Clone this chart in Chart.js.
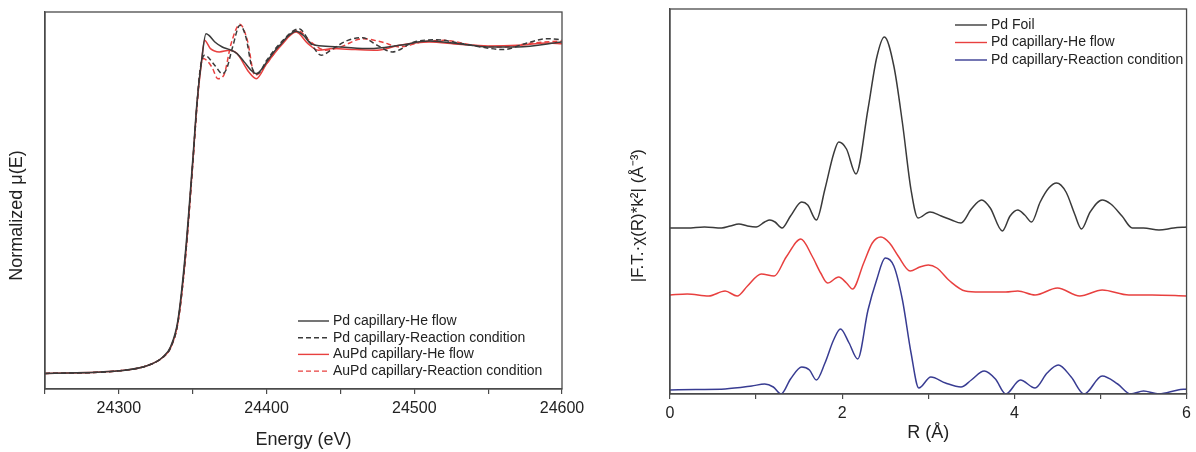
<!DOCTYPE html>
<html>
<head>
<meta charset="utf-8">
<script src="https://cdn.jsdelivr.net/npm/chart.js@4.4.1/dist/chart.umd.min.js"></script>
<style>
    body { margin: 0; background: #fff; }
    #wrap { position: relative; width: 1196px; height: 452px; }
    .box { position: absolute; top: 0; height: 452px; }
</style>
</head>
<body>
<div id="wrap">
    <div class="box" style="left:0;width:600px"><canvas id="xanes"></canvas></div>
    <div class="box" style="left:600px;width:596px"><canvas id="exafs"></canvas></div>
</div>
<script>
// left panel: XANES, energy (eV) vs normalized mu
const pdHeE = [24250,24300,24320,24330,24335,24340,24345,24350,24353,24356,24359,24361,24365,24370,24375,24380,24385,24390,24393,24397,24400,24405,24410,24415,24420,24425,24430,24440,24450,24470,24490,24510,24530,24550,24570,24600]
const pdHeMu = [0.000,0.008,0.025,0.051,0.081,0.162,0.364,0.646,0.828,0.949,1.030,1.025,1.005,0.990,0.982,0.970,0.944,0.917,0.909,0.924,0.944,0.975,1.000,1.025,1.038,1.025,1.000,0.992,0.990,0.985,0.995,1.008,1.000,0.990,0.990,1.005]

const pdRxE = [24250,24300,24320,24330,24335,24340,24345,24350,24353,24355,24358,24365,24370,24373,24377,24382,24386,24390,24394,24400,24410,24422,24430,24437,24445,24455,24465,24475,24485,24500,24515,24530,24545,24560,24575,24590,24600]
const pdRxMu = [0.000,0.008,0.025,0.050,0.078,0.155,0.350,0.635,0.820,0.920,0.965,0.934,0.909,0.924,0.990,1.056,1.020,0.929,0.909,0.949,1.005,1.045,1.000,0.965,0.985,1.010,1.018,0.995,0.975,1.005,1.012,1.002,0.990,0.982,1.000,1.015,1.012]

const auHeE = [24250,24300,24320,24330,24335,24340,24345,24350,24353,24356,24358,24362,24368,24375,24380,24388,24393,24400,24410,24420,24428,24435,24445,24460,24475,24490,24510,24530,24550,24570,24590,24600]
const auHeMu = [0.000,0.008,0.025,0.050,0.078,0.155,0.350,0.635,0.820,0.945,1.010,0.985,0.975,0.980,0.970,0.914,0.894,0.939,0.995,1.035,1.000,0.980,0.985,0.982,0.980,0.995,1.005,0.998,0.993,0.995,1.002,1.000]

const auRxE = [24250,24300,24320,24330,24335,24340,24345,24350,24353,24355,24357,24363,24367,24371,24376,24382,24387,24392,24400,24410,24421,24430,24440,24450,24465,24478,24490,24505,24520,24540,24560,24580,24600]
const auRxMu = [0.000,0.008,0.025,0.050,0.078,0.155,0.350,0.635,0.820,0.920,0.955,0.929,0.894,0.904,1.000,1.059,1.010,0.904,0.939,1.000,1.040,1.005,0.980,0.990,1.015,1.005,0.990,1.005,1.010,0.995,0.990,1.002,1.008]

const xanesTicks = [24300, 24400, 24500, 24600]

// right panel: FT magnitude vs R (arbitrary units, curves offset)
const foilR = [0,0.2,0.4,0.6,0.7,0.8,0.9,1.0,1.1,1.16,1.22,1.3,1.4,1.53,1.6,1.7,1.8,1.9,1.96,2.05,2.16,2.3,2.4,2.49,2.6,2.7,2.8,2.88,3.02,3.15,3.27,3.38,3.5,3.62,3.72,3.86,3.95,4.04,4.12,4.2,4.3,4.4,4.49,4.6,4.7,4.78,4.88,5.02,5.12,5.25,5.37,5.5,5.68,5.85,6.0]
const foilV = [166,166,167,166,168,170,168,167,172,174,172,166,178,192,189,174,205,240,252,245,220,285,336,357,328,271,204,176,182,178,174,171,185,194,186,163,178,184,179,172,192,206,211,202,180,165,182,194,190,178,166,166,164,166,167]

const heR = [0,0.2,0.45,0.64,0.78,0.9,1.06,1.21,1.35,1.52,1.65,1.75,1.83,1.96,2.05,2.12,2.25,2.35,2.45,2.55,2.65,2.79,2.9,3.0,3.1,3.25,3.43,3.6,3.75,3.9,4.04,4.24,4.5,4.76,5.02,5.33,5.6,6.0]
const heV = [99,100,98,103,98,108,120,118,137,155,138,121,111,117,111,105,131,151,157,151,138,123,127,129,126,113,103,102,102,102,103,99,106,98,104,99,99,98]

const rxR = [0,0.3,0.64,0.95,1.1,1.2,1.29,1.4,1.53,1.62,1.7,1.8,1.9,1.98,2.08,2.18,2.3,2.4,2.5,2.6,2.7,2.8,2.89,3.03,3.2,3.38,3.5,3.65,3.78,3.9,4.07,4.24,4.38,4.51,4.66,4.81,5.02,5.2,5.35,5.5,5.68,5.9,6.0]
const rxV = [4,4.5,5,8,10,7,0,15,27,24,14,31,54,65,51,35,84,114,136,128,94,41,6,17,11,7,14,23,15,0,14,6,21,29,17,0,18,10,0,3,0,4,5]

const rTicks = [0, 2, 4, 6]

const FONT = '"Liberation Sans", Arial, sans-serif'
const AXIS = '#4a4a4a'
const BLACK = '#3a3a3a'
const RED = '#e8403f'
const BLUE = '#383c92'
const PAD = '\u00a0\u00a0\u00a0\u00a0\u00a0\u00a0'

function pts(xs, ys) {
    return xs.map((x, i) => ({ x: x, y: ys[i] }))
}

function line(label, xs, ys, color, dashed) {
    return {
        label: label,
        data: pts(xs, ys),
        borderColor: color,
        borderWidth: 1.5,
        borderDash: dashed ? [5, 3] : [],
        pointRadius: 0,
        cubicInterpolationMode: 'monotone',
        fill: false
    }
}

// frame round the plot area
const framePlugin = {
    id: 'frame',
    afterDraw(chart) {
        const a = chart.chartArea, ctx = chart.ctx
        ctx.save()
        ctx.strokeStyle = AXIS
        ctx.lineWidth = 1.3
        ctx.strokeRect(a.left, a.top, a.right - a.left, a.bottom - a.top)
        ctx.restore()
    }
}

// legend drawn inside the plot at a given spot
const boxLegend = {
    id: 'boxLegend',
    afterDraw(chart, args, opts) {
        const ctx = chart.ctx
        ctx.save()
        ctx.font = '14px ' + FONT
        ctx.textBaseline = 'middle'
        chart.data.datasets.forEach((ds, i) => {
            const y = opts.y + i * opts.gap
            ctx.strokeStyle = ds.borderColor
            ctx.lineWidth = 1.4
            ctx.setLineDash(ds.borderDash || [])
            ctx.beginPath()
            ctx.moveTo(opts.x, y)
            ctx.lineTo(opts.x + opts.len, y)
            ctx.stroke()
            ctx.setLineDash([])
            ctx.fillStyle = '#222'
            ctx.fillText(ds.label, opts.x + opts.len + 4, y)
        })
        ctx.restore()
    }
}

function axisX(min, max, step, labels, title, h, tpad) {
    return {
        type: 'linear',
        min: min,
        max: max,
        grid: { display: true, drawOnChartArea: false, drawTicks: true, tickLength: 5, color: AXIS, lineWidth: 1.2 },
        border: { display: true, color: AXIS, width: 1.3 },
        ticks: {
            stepSize: step,
            color: '#222',
            padding: 5,
            maxRotation: 0,
            autoSkip: false,
            font: { family: FONT, size: 16 },
            callback: v => labels.includes(v) ? String(v) : ''
        },
        title: { display: true, text: title, color: '#222', padding: { top: 0, bottom: tpad }, font: { family: FONT, size: 18 } },
        afterFit: s => { s.height = h }
    }
}

function axisY(min, max, title, w, size, tpad) {
    return {
        type: 'linear',
        min: min,
        max: max,
        grid: { display: false },
        border: { display: true, color: AXIS, width: 1.3 },
        ticks: { display: false },
        title: { display: true, text: title, color: '#222', padding: { top: tpad, bottom: 0 }, font: { family: FONT, size: size } },
        afterFit: s => { s.width = w }
    }
}

new Chart(document.getElementById('xanes'), {
    type: 'line',
    data: {
        datasets: [
            line('Pd capillary-He flow', pdHeE, pdHeMu, BLACK, false),
            line('Pd capillary-Reaction condition', pdRxE, pdRxMu, BLACK, true),
            line('AuPd capillary-He flow', auHeE, auHeMu, RED, false),
            line('AuPd capillary-Reaction condition', auRxE, auRxMu, RED, true)
        ]
    },
    options: {
        animation: false,
        responsive: true,
        maintainAspectRatio: false,
        layout: { padding: { top: 12, right: 38, left: 0, bottom: 0 } },
        plugins: {
            legend: { display: false },
            tooltip: { enabled: false },
            boxLegend: { x: 298, y: 321, gap: 16.7, len: 31 }
        },
        scales: {
            x: axisX(24250, 24600, 50, xanesTicks, 'Energy (eV)', 63, 1),
            y: axisY(-0.047, 1.096, 'Normalized \u03bc(E)' + PAD, 45, 18, 6)
        }
    },
    plugins: [framePlugin, boxLegend]
});

new Chart(document.getElementById('exafs'), {
    type: 'line',
    data: {
        datasets: [
            line('Pd Foil', foilR, foilV, BLACK, false),
            line('Pd capillary-He flow', heR, heV, RED, false),
            line('Pd capillary-Reaction condition', rxR, rxV, BLUE, false)
        ]
    },
    options: {
        animation: false,
        responsive: true,
        maintainAspectRatio: false,
        layout: { padding: { top: 9, right: 3, left: 0, bottom: 0 } },
        plugins: {
            legend: { display: false },
            tooltip: { enabled: false },
            boxLegend: { x: 355, y: 25, gap: 17.5, len: 32 }
        },
        scales: {
            x: axisX(0, 6, 1, rTicks, 'R (\u00c5)', 58, 8),
            y: axisY(0, 385, '|F.T.\u00b7\u03c7(R)*k\u00b2| (\u00c5\u207b\u00b3)' + PAD, 70, 17, 28)
        }
    },
    plugins: [framePlugin, boxLegend]
});
</script>
</body>
</html>
